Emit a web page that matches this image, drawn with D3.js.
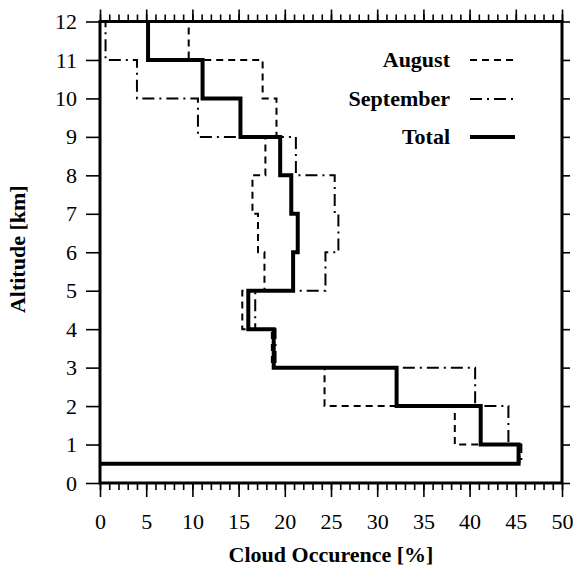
<!DOCTYPE html>
<meta charset="utf-8">
<style>
  body { margin: 0; background: #fff; }
  svg text { font-family: "Liberation Serif", "Times New Roman", serif; }
</style>
<svg width="574" height="574"></svg>
<script src="https://d3js.org/d3.v7.min.js"></script>
<script>
// altitude bins [km]: lower and upper edges
var binLow  = [0.5, 1, 2, 3, 4, 5, 6, 7, 8, 9, 10, 11]
var binHigh = [1, 2, 3, 4, 5, 6, 7, 8, 9, 10, 11, 12]

// cloud occurence [%] per bin
var august    = [45.4, 38.4, 24.3, 18.6, 15.4, 17.8, 17.1, 16.5, 17.9, 19.1, 17.6, 9.6]
var september = [45.6, 44.2, 40.6, 19.0, 16.8, 24.4, 25.8, 25.4, 21.2, 10.6, 4.0, 0.6]
var total     = [45.3, 41.2, 32.1, 18.8, 16.05, 20.9, 21.4, 20.7, 19.5, 15.2, 11.1, 5.2]

var xTicks = d3.range(0, 51, 5)
var xMinor = d3.range(0, 51, 1)
var yTicks = d3.range(0, 13, 1)

var series = [
  { name: 'August',    values: august,    width: 2, dash: '7,5' },
  { name: 'September', values: september, width: 2, dash: '12,5,2,5' },
  { name: 'Total',     values: total,     width: 4, dash: null }
]

// plot box (window.top is reserved, so use other names)
var pLeft = 100, pRight = 562, pTop = 21.5, pBottom = 483

var x = d3.scaleLinear().domain([0, 50]).range([pLeft, pRight])
var y = d3.scaleLinear().domain([0, 12]).range([pBottom, pTop])

var svg = d3.select('svg')

svg.append('clipPath').attr('id', 'plot')
  .append('rect')
    .attr('x', pLeft).attr('y', pTop)
    .attr('width', pRight - pLeft).attr('height', pBottom - pTop)

// step profile: start at 0 on the lowest edge, then up through the bins
function stepPoints(values) {
  var pts = [[0, binLow[0]]]
  values.forEach(function (v, i) {
    pts.push([v, binLow[i]])
    pts.push([v, binHigh[i]])
  })
  return pts
}

var line = d3.line()
  .x(function (d) { return x(d[0]) })
  .y(function (d) { return y(d[1]) })

svg.append('g')
  .attr('clip-path', 'url(#plot)')
  .selectAll('path')
  .data(series)
  .enter().append('path')
    .attr('d', function (s) { return line(stepPoints(s.values)) })
    .attr('fill', 'none')
    .attr('stroke', 'black')
    .attr('stroke-width', function (s) { return s.width })
    .attr('stroke-dasharray', function (s) { return s.dash })

// axes
function styleAxis(g) {
  g.select('.domain').remove()
  g.selectAll('line').attr('stroke', 'black').attr('stroke-width', 1.6)
  g.selectAll('text').attr('font-size', 22).attr('fill', 'black')
}

svg.append('g').attr('transform', 'translate(0,' + pBottom + ')')
  .call(d3.axisBottom(x).tickValues(xMinor).tickSize(7).tickFormat(''))
  .call(styleAxis)
svg.append('g').attr('transform', 'translate(0,' + pBottom + ')')
  .call(d3.axisBottom(x).tickValues(xTicks).tickSize(14).tickPadding(16).tickFormat(d3.format('d')))
  .call(styleAxis)

svg.append('g').attr('transform', 'translate(0,' + pTop + ')')
  .call(d3.axisTop(x).tickValues(xMinor).tickSize(7).tickFormat(''))
  .call(styleAxis)
svg.append('g').attr('transform', 'translate(0,' + pTop + ')')
  .call(d3.axisTop(x).tickValues(xTicks).tickSize(12).tickFormat(''))
  .call(styleAxis)

svg.append('g').attr('transform', 'translate(' + pLeft + ',0)')
  .call(d3.axisLeft(y).tickValues(yTicks).tickSize(14).tickPadding(9).tickFormat(d3.format('d')))
  .call(styleAxis)
svg.append('g').attr('transform', 'translate(' + pRight + ',0)')
  .call(d3.axisRight(y).tickValues(yTicks).tickSize(8).tickFormat(''))
  .call(styleAxis)

// frame
svg.append('rect')
  .attr('x', pLeft).attr('y', pTop)
  .attr('width', pRight - pLeft).attr('height', pBottom - pTop)
  .attr('fill', 'none').attr('stroke', 'black').attr('stroke-width', 3)

// axis titles
svg.append('text')
  .attr('x', (pLeft + pRight) / 2).attr('y', 562)
  .attr('text-anchor', 'middle')
  .attr('font-size', 22).attr('font-weight', 'bold')
  .text('Cloud Occurence [%]')

svg.append('text')
  .attr('transform', 'translate(25,' + ((pTop + pBottom) / 2 - 3) + ') rotate(-90)')
  .attr('text-anchor', 'middle')
  .attr('font-size', 22).attr('font-weight', 'bold')
  .text('Altitude [km]')

// legend
var legendY = [60, 99, 137]
var legend = svg.append('g')
  .selectAll('g')
  .data(series)
  .enter().append('g')
    .attr('transform', function (s, i) { return 'translate(0,' + legendY[i] + ')' })

legend.append('text')
  .attr('x', 450).attr('y', 7)
  .attr('text-anchor', 'end')
  .attr('font-size', 22).attr('font-weight', 'bold')
  .text(function (s) { return s.name })

legend.append('line')
  .attr('x1', 470).attr('x2', 515)
  .attr('stroke', 'black')
  .attr('stroke-width', function (s) { return s.width })
  .attr('stroke-dasharray', function (s) { return s.dash })
</script>
